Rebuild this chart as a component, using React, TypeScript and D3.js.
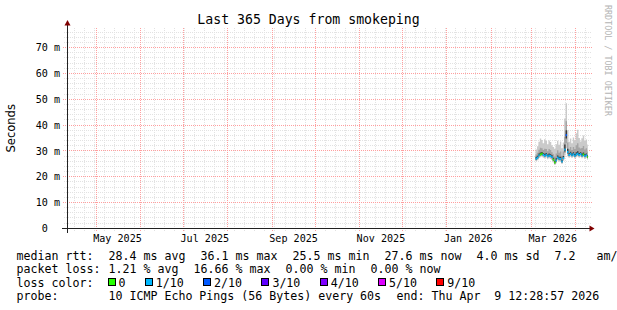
import React from "react";
import * as d3 from "d3";

const START = Date.UTC(2025, 3, 9, 12, 28, 57);
const END = Date.UTC(2026, 3, 9, 12, 28, 57);
const DAY = 86400000;

const sampleDates = [
  "2026-03-04", "2026-03-05", "2026-03-06", "2026-03-07", "2026-03-08", "2026-03-09",
  "2026-03-10", "2026-03-11", "2026-03-12", "2026-03-13", "2026-03-14", "2026-03-15",
  "2026-03-16", "2026-03-17", "2026-03-18", "2026-03-19", "2026-03-20", "2026-03-21",
  "2026-03-22", "2026-03-23", "2026-03-24", "2026-03-25", "2026-03-26", "2026-03-27",
  "2026-03-28", "2026-03-29", "2026-03-30", "2026-03-31", "2026-04-01", "2026-04-02",
  "2026-04-03", "2026-04-04", "2026-04-05", "2026-04-06", "2026-04-07", "2026-04-08",
  "2026-04-09",
];
const medianMs = [
  27.0, 27.4, 28.3, 28.6, 28.9, 28.4, 28.1, 28.5, 27.9, 28.2, 28.0, 27.6,
  26.6, 25.5, 26.3, 27.4, 27.0, 26.9, 25.9, 27.2, 30.5, 36.1, 29.6, 28.4,
  28.9, 28.3, 28.7, 28.1, 28.6, 28.9, 28.4, 28.8, 28.2, 28.6, 28.0, 28.3, 27.6,
];
// ping ranks (fastest .. slowest)
const p1Ms = [
  26.0, 26.4, 27.2, 27.5, 27.8, 27.3, 27.0, 27.4, 26.8, 27.1, 26.9, 26.5,
  25.5, 24.5, 25.2, 26.3, 25.9, 25.8, 24.9, 26.1, 28.2, 31.0, 27.9, 27.3,
  27.8, 27.2, 27.6, 27.0, 27.5, 27.8, 27.3, 27.7, 27.1, 27.5, 26.9, 27.2, 26.6,
];
const p2Ms = [
  26.4, 26.8, 27.7, 28.0, 28.3, 27.8, 27.5, 27.9, 27.3, 27.6, 27.4, 27.0,
  26.0, 24.9, 25.7, 26.8, 26.4, 26.3, 25.3, 26.6, 29.2, 33.0, 28.8, 27.8,
  28.3, 27.7, 28.1, 27.5, 28.0, 28.3, 27.8, 28.2, 27.6, 28.0, 27.4, 27.7, 27.0,
];
const p4Ms = [
  26.7, 27.1, 28.0, 28.3, 28.6, 28.1, 27.8, 28.2, 27.6, 27.9, 27.7, 27.3,
  26.3, 25.2, 26.0, 27.1, 26.7, 26.6, 25.6, 26.9, 29.8, 34.8, 29.1, 28.1,
  28.6, 28.0, 28.4, 27.8, 28.3, 28.6, 28.1, 28.5, 27.9, 28.3, 27.7, 28.0, 27.3,
];
const p7Ms = [
  27.7, 28.1, 29.0, 29.4, 29.6, 29.1, 28.9, 29.2, 28.6, 29.0, 28.7, 28.3,
  27.3, 26.2, 27.1, 28.2, 27.7, 27.7, 26.6, 28.0, 32.5, 38.0, 30.8, 29.1,
  29.7, 29.0, 29.5, 28.8, 29.5, 29.9, 29.2, 29.5, 29.0, 29.4, 28.7, 29.0, 28.3,
];
const p9Ms = [
  28.6, 29.3, 30.4, 31.2, 31.0, 30.3, 30.8, 30.7, 29.9, 30.7, 30.3, 29.5,
  28.7, 27.8, 29.0, 30.2, 29.3, 29.8, 28.1, 29.8, 35.5, 41.5, 33.2, 30.6,
  31.5, 30.3, 31.5, 30.7, 32.2, 33.0, 31.3, 30.9, 31.1, 31.9, 30.5, 31.0, 29.8,
];
const p10Ms = [
  30.5, 31.8, 33.5, 34.8, 34.2, 33.0, 34.5, 33.8, 32.6, 34.0, 33.4, 32.2,
  31.5, 30.8, 32.6, 33.9, 32.4, 33.6, 31.0, 33.2, 42.5, 48.5, 38.0, 33.5,
  34.8, 33.0, 35.2, 34.1, 36.8, 38.2, 35.0, 33.6, 34.9, 36.0, 33.8, 34.4, 32.5,
];
const lossPct = [
  2.0, 1.0, 0.5, 0, 0, 1.0, 0.8, 1.2, 0.5, 1.0, 0.6, 0.4,
  0, 0, 1.0, 0.8, 1.2, 0.6, 2.0, 1.5, 5.0, 16.66, 2.0, 1.0,
  0.8, 0.6, 1.0, 0.5, 0.8, 1.2, 0.6, 1.0, 0.4, 0, 0.6, 0.5, 0,
];

const yTickValues = [0, 10, 20, 30, 40, 50, 60, 70];
const yTickLabels = ["0\u00a0\u00a0", "10 m", "20 m", "30 m", "40 m", "50 m", "60 m", "70 m"];
const xLabelMonths = ["2025-05-01", "2025-07-01", "2025-09-01", "2025-11-01", "2026-01-01", "2026-03-01"];
const xLabelTexts = ["May 2025", "Jul 2025", "Sep 2025", "Nov 2025", "Jan 2026", "Mar 2026"];

const lossLegendLabels = ["0", "1/10", "2/10", "3/10", "4/10", "5/10", "9/10"];
const lossLegendColors = ["#26ff00", "#00b8ff", "#0059ff", "#5e00ff", "#7e00ff", "#dd00ff", "#ff0000"];
const lossUpperPct = [0, 10, 20, 30, 40, 50, 100];

const legendRow1 = ["median rtt:", "28.4 ms avg", "36.1 ms max", "25.5 ms min", "27.6 ms now", "4.0 ms sd", "7.2   am/s"];
const legendRow2 = ["packet loss:", "1.21 % avg", "16.66 % max", "0.00 % min", "0.00 % now"];
const legendRow3Label = "loss color:";
const legendRow4 = ["probe:", "10 ICMP Echo Pings (56 Bytes) every 60s", "end: Thu Apr  9 12:28:57 2026"];

const TITLE = "Last 365 Days from smokeping";
const MONO = "'DejaVu Sans Mono', monospace";
const SANS = "'DejaVu Sans', sans-serif";

const px = (v: number) => Math.round(v - 0.5) + 0.5;

function lossColor(p: number) {
  for (let i = 0; i < lossUpperPct.length; i++) if (p <= lossUpperPct[i]) return lossLegendColors[i];
  return lossLegendColors[lossLegendColors.length - 1];
}

const CW = 7.0; // legend char advance
const LEG_FS = CW / 0.6021;
const GLUE = 15;
const COL2 = 108.5;

function rowPositions(items: string[]) {
  const xs: number[] = [16.5];
  let cur = COL2;
  for (let i = 1; i < items.length; i++) {
    xs.push(cur);
    cur += items[i].length * CW + GLUE;
  }
  return xs;
}

export default function App() {
  const X0 = 65.3, X1 = 587.8;
  const Y0 = 228.3, YT = 28.3;
  const x = d3.scaleUtc().domain([new Date(START), new Date(END)]).range([X0, X1]);
  const y = d3.scaleLinear().domain([0, 77.5]).range([Y0, YT]);
  const axisX = 67;
  const axisY = px(Y0);

  const samples = sampleDates.map((d, i) => {
    const t0 = new Date(d + "T00:00:00Z").getTime();
    return {
      t0,
      t1: Math.min(t0 + DAY, END),
      med: medianMs[i],
      p1: p1Ms[i], p2: p2Ms[i], p4: p4Ms[i], p7: p7Ms[i], p9: p9Ms[i], p10: p10Ms[i],
      loss: lossPct[i],
    };
  });
  const last = samples[samples.length - 1];
  const stepPts = [...samples.map((s) => ({ ...s, t: s.t0 })), { ...last, t: last.t1 }];

  const band = (lo: string, hi: string) =>
    d3
      .area<any>()
      .curve(d3.curveStepAfter)
      .x((d) => x(new Date(d.t)))
      .y0((d) => y(d[lo]))
      .y1((d) => y(d[hi]))(stepPts) || "";

  // grids
  const minorH: number[] = [];
  for (let v = 2; v < 77.5; v += 2) if (v % 10 !== 0) minorH.push(v);
  const majorH = [10, 20, 30, 40, 50, 60, 70];
  const weekStart = Date.UTC(2025, 3, 9);
  const minorV: number[] = [];
  for (let t = weekStart + 7 * DAY; t < END; t += 7 * DAY) minorV.push(t);
  const monthV = d3.utcMonth.range(new Date(START), new Date(END));

  const gridGrey = "#e2e2e2";
  const gridRed = "#ff9f9f";

  const lossItems: { bx: number; tx: number; label: string; color: string }[] = [];
  let cx = 107.5;
  lossLegendLabels.forEach((lab, i) => {
    lossItems.push({ bx: cx, tx: cx + 11, label: lab, color: lossLegendColors[i] });
    cx += 11 + lab.length * CW + 19.3;
  });

  const legendBase = [259.5, 273, 286.5, 300];
  const rows = [legendRow1, legendRow2, [legendRow3Label], legendRow4];

  return (
    <svg
      width={617}
      height={310}
      style={{ position: "absolute", left: 0, top: 0, background: "#fff" }}
      xmlns="http://www.w3.org/2000/svg"
    >
      <rect x={0} y={0} width={617} height={310} fill="#fff" />
      <text x={308.5} y={24} textAnchor="middle" fontFamily={MONO} fontSize={13.2} fill="#000">
        {TITLE}
      </text>
      <text
        transform="translate(604.5,5) rotate(90)"
        fontFamily={MONO}
        fontSize={8.4}
        fill="#b4b4b4"
        style={{ whiteSpace: "pre" }}
      >
        RRDTOOL / TOBI OETIKER
      </text>
      <text
        transform={`translate(15,${(Y0 + YT) / 2}) rotate(-90)`}
        textAnchor="middle"
        fontFamily={SANS}
        fontSize={11.56}
        fill="#000"
      >
        Seconds
      </text>

      <g stroke={gridGrey} strokeWidth={1} strokeDasharray="1,1" shapeRendering="crispEdges">
        {minorH.map((v) => (
          <line key={"mh" + v} x1={64} x2={591} y1={px(y(v))} y2={px(y(v))} />
        ))}
        {minorV.map((t) => (
          <line key={"mv" + t} x1={px(x(new Date(t)))} x2={px(x(new Date(t)))} y1={YT} y2={axisY + 2} />
        ))}
      </g>
      <g stroke={gridRed} strokeWidth={1} strokeDasharray="1,1" shapeRendering="crispEdges">
        {majorH.map((v) => (
          <line key={"Mh" + v} x1={63} x2={592} y1={px(y(v))} y2={px(y(v))} />
        ))}
        {monthV.map((d) => (
          <line key={"Mv" + d.getTime()} x1={px(x(d))} x2={px(x(d))} y1={YT} y2={axisY + 3} />
        ))}
      </g>

      {/* smoke */}
      <path d={band("p1", "p10")} fill="#cacaca" />
      <path d={band("p2", "p9")} fill="#a4a4a4" />
      <path d={band("p4", "p7")} fill="#3a3a3a" />
      {/* loss coloured median */}
      {samples.map((s, i) => (
        <rect
          key={"b" + i}
          x={x(new Date(s.t0))}
          width={x(new Date(s.t1)) - x(new Date(s.t0))}
          y={y(s.med) - 1}
          height={2}
          fill={lossColor(s.loss)}
        />
      ))}

      {/* axes */}
      <line x1={62} x2={590} y1={axisY} y2={axisY} stroke="#212121" strokeWidth={1} shapeRendering="crispEdges" />
      <line x1={axisX + 0.5} x2={axisX + 0.5} y1={233} y2={24} stroke="#212121" strokeWidth={1} shapeRendering="crispEdges" />
      <polygon points={`589.5,${axisY - 3} 589.5,${axisY + 3} 594.5,${axisY}`} fill="#800000" />
      <polygon points={`${axisX - 2.5},25.5 ${axisX + 3.5},25.5 ${axisX + 0.5},20`} fill="#800000" />

      {yTickValues.map((v, i) => (
        <text
          key={"yl" + v}
          x={60}
          y={y(v) + 3.7}
          textAnchor="end"
          fontFamily={MONO}
          fontSize={10.1}
          fill="#000"
          style={{ whiteSpace: "pre" }}
        >
          {yTickLabels[i]}
        </text>
      ))}
      {xLabelMonths.map((m, i) => (
        <text
          key={"xl" + m}
          x={x(new Date(new Date(m + "T00:00:00Z").getTime() + 15 * DAY))}
          y={241.7}
          textAnchor="middle"
          fontFamily={MONO}
          fontSize={10.1}
          fill="#000"
        >
          {xLabelTexts[i]}
        </text>
      ))}

      {rows.map((items, r) => {
        const xs = rowPositions(items);
        return items.map((s, k) => (
          <text
            key={"lg" + r + "_" + k}
            x={xs[k]}
            y={legendBase[r]}
            fontFamily={MONO}
            fontSize={LEG_FS}
            fill="#000"
            style={{ whiteSpace: "pre" }}
          >
            {s}
          </text>
        ));
      })}
      {lossItems.map((it) => (
        <g key={"li" + it.label}>
          <rect
            x={Math.round(it.bx) + 0.5}
            y={legendBase[2] - 8.5}
            width={7}
            height={7}
            fill={it.color}
            stroke="#000"
            strokeWidth={1}
            shapeRendering="crispEdges"
          />
          <text x={it.tx} y={legendBase[2]} fontFamily={MONO} fontSize={LEG_FS} fill="#000">
            {it.label}
          </text>
        </g>
      ))}
    </svg>
  );
}
